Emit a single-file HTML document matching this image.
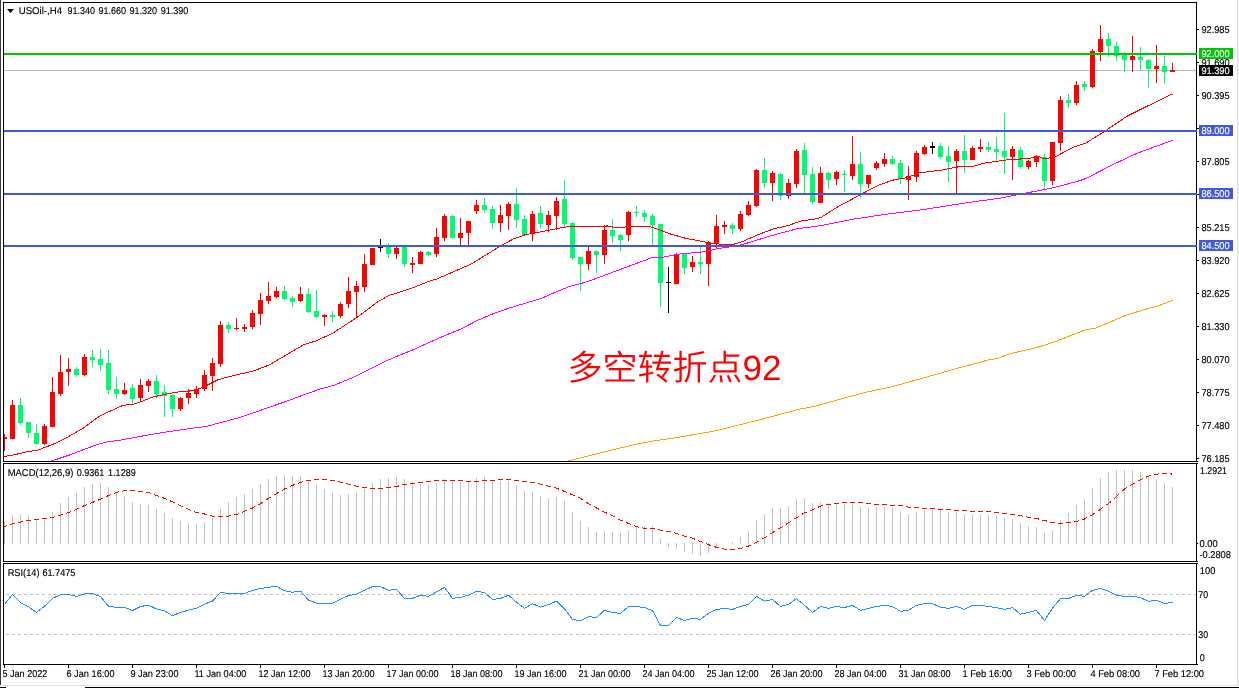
<!DOCTYPE html>
<html lang="zh"><head><meta charset="utf-8"><title>USOil-,H4</title>
<style>
html,body{margin:0;padding:0;background:#fff;overflow:hidden}
body{width:1239px;height:688px;position:relative}
svg{position:absolute;left:0;top:0;display:block}
text{font-family:"Liberation Sans","Noto Sans CJK SC",sans-serif;font-size:9.9px;fill:#000;stroke:#000;stroke-width:0.15px;text-rendering:geometricPrecision}
.cj{font-family:"Liberation Sans","Noto Sans CJK SC",sans-serif;font-size:35px;fill:#FF0000;font-weight:350;stroke:none}
.w{fill:#fff;stroke:#fff}
.cr{shape-rendering:crispEdges}
</style></head><body>
<svg width="1239" height="688" viewBox="0 0 1239 688">
<rect width="1239" height="688" fill="#fff"/>
<defs><filter id="nf" x="0" y="0" width="1239" height="688" filterUnits="userSpaceOnUse" color-interpolation-filters="sRGB"><feOffset dx="0" dy="0"/></filter></defs>
<g class="cr">
<rect x="0" y="0" width="1" height="685" fill="#3a3a3a"/><rect x="0" y="685" width="1239" height="1" fill="#e4e4e4"/><rect x="0" y="687" width="6" height="1" fill="#000"/><rect x="85" y="687" width="1154" height="1" fill="#000"/><rect x="1237" y="0" width="1" height="685" fill="#dedede"/><rect x="1238" y="0" width="1" height="685" fill="#f1f1f1"/></g>
<g class="cr">
<rect x="4" y="70" width="1192" height="1" fill="#C0C0C0"/><rect x="4" y="434" width="1" height="17" fill="#FF0000"/><rect x="4" y="437" width="3" height="2" fill="#FF0000"/><rect x="12" y="400" width="1" height="39" fill="#FF0000"/><rect x="10" y="405" width="5" height="34" fill="#FF0000"/><rect x="20" y="398" width="1" height="27" fill="#00FB72"/><rect x="18" y="405" width="5" height="18" fill="#00FB72"/><rect x="28" y="422" width="1" height="16" fill="#00FB72"/><rect x="26" y="422" width="5" height="11" fill="#00FB72"/><rect x="36" y="424" width="1" height="21" fill="#00FB72"/><rect x="34" y="433" width="5" height="11" fill="#00FB72"/><rect x="44" y="424" width="1" height="21" fill="#FF0000"/><rect x="42" y="426" width="5" height="18" fill="#FF0000"/><rect x="52" y="377" width="1" height="50" fill="#FF0000"/><rect x="50" y="392" width="5" height="35" fill="#FF0000"/><rect x="60" y="355" width="1" height="41" fill="#FF0000"/><rect x="58" y="372" width="5" height="22" fill="#FF0000"/><rect x="68" y="358" width="1" height="28" fill="#FF0000"/><rect x="66" y="369" width="5" height="3" fill="#FF0000"/><rect x="76" y="367" width="1" height="10" fill="#00FB72"/><rect x="74" y="369" width="5" height="6" fill="#00FB72"/><rect x="84" y="354" width="1" height="22" fill="#FF0000"/><rect x="82" y="357" width="5" height="18" fill="#FF0000"/><rect x="92" y="350" width="1" height="17" fill="#00FB72"/><rect x="90" y="357" width="5" height="3" fill="#00FB72"/><rect x="100" y="349" width="1" height="22" fill="#00FB72"/><rect x="98" y="359" width="5" height="6" fill="#00FB72"/><rect x="108" y="350" width="1" height="44" fill="#00FB72"/><rect x="106" y="363" width="5" height="27" fill="#00FB72"/><rect x="116" y="377" width="1" height="22" fill="#00FB72"/><rect x="114" y="389" width="5" height="5" fill="#00FB72"/><rect x="124" y="383" width="1" height="12" fill="#FF0000"/><rect x="122" y="390" width="5" height="4" fill="#FF0000"/><rect x="132" y="384" width="1" height="20" fill="#00FB72"/><rect x="130" y="388" width="5" height="11" fill="#00FB72"/><rect x="140" y="379" width="1" height="23" fill="#FF0000"/><rect x="138" y="385" width="5" height="13" fill="#FF0000"/><rect x="148" y="379" width="1" height="13" fill="#FF0000"/><rect x="146" y="381" width="5" height="5" fill="#FF0000"/><rect x="156" y="375" width="1" height="23" fill="#00FB72"/><rect x="154" y="381" width="5" height="13" fill="#00FB72"/><rect x="164" y="385" width="1" height="32" fill="#00FB72"/><rect x="162" y="392" width="5" height="4" fill="#00FB72"/><rect x="172" y="394" width="1" height="23" fill="#00FB72"/><rect x="170" y="395" width="5" height="14" fill="#00FB72"/><rect x="180" y="397" width="1" height="14" fill="#FF0000"/><rect x="178" y="398" width="5" height="11" fill="#FF0000"/><rect x="188" y="389" width="1" height="15" fill="#FF0000"/><rect x="186" y="393" width="5" height="5" fill="#FF0000"/><rect x="196" y="386" width="1" height="12" fill="#FF0000"/><rect x="194" y="389" width="5" height="5" fill="#FF0000"/><rect x="204" y="370" width="1" height="21" fill="#FF0000"/><rect x="202" y="375" width="5" height="14" fill="#FF0000"/><rect x="212" y="358" width="1" height="33" fill="#FF0000"/><rect x="210" y="363" width="5" height="13" fill="#FF0000"/><rect x="220" y="321" width="1" height="46" fill="#FF0000"/><rect x="218" y="325" width="5" height="39" fill="#FF0000"/><rect x="228" y="322" width="1" height="11" fill="#00FB72"/><rect x="226" y="325" width="5" height="4" fill="#00FB72"/><rect x="236" y="318" width="1" height="12" fill="#FF0000"/><rect x="234" y="328" width="5" height="1" fill="#FF0000"/><rect x="244" y="324" width="1" height="8" fill="#FF0000"/><rect x="242" y="327" width="5" height="2" fill="#FF0000"/><rect x="252" y="310" width="1" height="19" fill="#FF0000"/><rect x="250" y="313" width="5" height="14" fill="#FF0000"/><rect x="260" y="293" width="1" height="32" fill="#FF0000"/><rect x="258" y="300" width="5" height="14" fill="#FF0000"/><rect x="268" y="282" width="1" height="22" fill="#FF0000"/><rect x="266" y="296" width="5" height="5" fill="#FF0000"/><rect x="276" y="287" width="1" height="11" fill="#FF0000"/><rect x="274" y="291" width="5" height="6" fill="#FF0000"/><rect x="284" y="286" width="1" height="14" fill="#00FB72"/><rect x="282" y="291" width="5" height="8" fill="#00FB72"/><rect x="292" y="296" width="1" height="11" fill="#00FB72"/><rect x="290" y="298" width="5" height="4" fill="#00FB72"/><rect x="300" y="287" width="1" height="15" fill="#FF0000"/><rect x="298" y="294" width="5" height="7" fill="#FF0000"/><rect x="308" y="288" width="1" height="25" fill="#00FB72"/><rect x="306" y="294" width="5" height="18" fill="#00FB72"/><rect x="316" y="290" width="1" height="28" fill="#00FB72"/><rect x="314" y="311" width="5" height="6" fill="#00FB72"/><rect x="324" y="314" width="1" height="12" fill="#FF0000"/><rect x="322" y="315" width="5" height="2" fill="#FF0000"/><rect x="332" y="311" width="1" height="11" fill="#00FB72"/><rect x="330" y="315" width="5" height="2" fill="#00FB72"/><rect x="340" y="302" width="1" height="16" fill="#FF0000"/><rect x="338" y="304" width="5" height="12" fill="#FF0000"/><rect x="348" y="277" width="1" height="31" fill="#FF0000"/><rect x="346" y="291" width="5" height="13" fill="#FF0000"/><rect x="356" y="281" width="1" height="37" fill="#FF0000"/><rect x="354" y="286" width="5" height="6" fill="#FF0000"/><rect x="364" y="254" width="1" height="38" fill="#FF0000"/><rect x="362" y="264" width="5" height="23" fill="#FF0000"/><rect x="372" y="248" width="1" height="17" fill="#FF0000"/><rect x="370" y="248" width="5" height="17" fill="#FF0000"/><rect x="380" y="239" width="1" height="13" fill="#000000"/><rect x="378" y="246" width="5" height="2" fill="#000000"/><rect x="388" y="243" width="1" height="15" fill="#00FB72"/><rect x="386" y="247" width="5" height="7" fill="#00FB72"/><rect x="396" y="247" width="1" height="12" fill="#FF0000"/><rect x="394" y="248" width="5" height="6" fill="#FF0000"/><rect x="404" y="245" width="1" height="22" fill="#00FB72"/><rect x="402" y="245" width="5" height="19" fill="#00FB72"/><rect x="412" y="257" width="1" height="16" fill="#FF0000"/><rect x="410" y="263" width="5" height="2" fill="#FF0000"/><rect x="420" y="251" width="1" height="13" fill="#FF0000"/><rect x="418" y="252" width="5" height="12" fill="#FF0000"/><rect x="428" y="251" width="1" height="5" fill="#00FB72"/><rect x="426" y="252" width="5" height="3" fill="#00FB72"/><rect x="436" y="228" width="1" height="29" fill="#FF0000"/><rect x="434" y="237" width="5" height="17" fill="#FF0000"/><rect x="444" y="214" width="1" height="27" fill="#FF0000"/><rect x="442" y="216" width="5" height="22" fill="#FF0000"/><rect x="452" y="215" width="1" height="23" fill="#00FB72"/><rect x="450" y="216" width="5" height="22" fill="#00FB72"/><rect x="460" y="218" width="1" height="27" fill="#FF0000"/><rect x="458" y="233" width="5" height="5" fill="#FF0000"/><rect x="468" y="221" width="1" height="24" fill="#FF0000"/><rect x="466" y="221" width="5" height="12" fill="#FF0000"/><rect x="476" y="200" width="1" height="14" fill="#FF0000"/><rect x="474" y="205" width="5" height="6" fill="#FF0000"/><rect x="484" y="198" width="1" height="15" fill="#00FB72"/><rect x="482" y="205" width="5" height="5" fill="#00FB72"/><rect x="492" y="206" width="1" height="23" fill="#00FB72"/><rect x="490" y="209" width="5" height="14" fill="#00FB72"/><rect x="500" y="205" width="1" height="27" fill="#FF0000"/><rect x="498" y="215" width="5" height="8" fill="#FF0000"/><rect x="508" y="202" width="1" height="28" fill="#FF0000"/><rect x="506" y="204" width="5" height="12" fill="#FF0000"/><rect x="516" y="188" width="1" height="40" fill="#00FB72"/><rect x="514" y="204" width="5" height="16" fill="#00FB72"/><rect x="524" y="215" width="1" height="20" fill="#00FB72"/><rect x="522" y="219" width="5" height="16" fill="#00FB72"/><rect x="532" y="211" width="1" height="30" fill="#FF0000"/><rect x="530" y="214" width="5" height="20" fill="#FF0000"/><rect x="540" y="206" width="1" height="22" fill="#00FB72"/><rect x="538" y="213" width="5" height="11" fill="#00FB72"/><rect x="548" y="211" width="1" height="21" fill="#FF0000"/><rect x="546" y="215" width="5" height="10" fill="#FF0000"/><rect x="556" y="197" width="1" height="33" fill="#FF0000"/><rect x="554" y="201" width="5" height="15" fill="#FF0000"/><rect x="564" y="180" width="1" height="47" fill="#00FB72"/><rect x="562" y="199" width="5" height="25" fill="#00FB72"/><rect x="572" y="222" width="1" height="38" fill="#00FB72"/><rect x="570" y="223" width="5" height="35" fill="#00FB72"/><rect x="580" y="257" width="1" height="34" fill="#00FB72"/><rect x="578" y="257" width="5" height="7" fill="#00FB72"/><rect x="588" y="247" width="1" height="23" fill="#FF0000"/><rect x="586" y="251" width="5" height="13" fill="#FF0000"/><rect x="596" y="251" width="1" height="22" fill="#00FB72"/><rect x="594" y="251" width="5" height="4" fill="#00FB72"/><rect x="604" y="225" width="1" height="39" fill="#FF0000"/><rect x="602" y="230" width="5" height="25" fill="#FF0000"/><rect x="612" y="219" width="1" height="24" fill="#00FB72"/><rect x="610" y="230" width="5" height="6" fill="#00FB72"/><rect x="620" y="234" width="1" height="17" fill="#00FB72"/><rect x="618" y="235" width="5" height="5" fill="#00FB72"/><rect x="628" y="211" width="1" height="30" fill="#FF0000"/><rect x="626" y="212" width="5" height="23" fill="#FF0000"/><rect x="636" y="206" width="1" height="11" fill="#00FB72"/><rect x="634" y="212" width="5" height="1" fill="#00FB72"/><rect x="644" y="210" width="1" height="12" fill="#00FB72"/><rect x="642" y="213" width="5" height="4" fill="#00FB72"/><rect x="652" y="214" width="1" height="31" fill="#00FB72"/><rect x="650" y="216" width="5" height="9" fill="#00FB72"/><rect x="660" y="224" width="1" height="83" fill="#00FB72"/><rect x="658" y="224" width="5" height="59" fill="#00FB72"/><rect x="668" y="267" width="1" height="46" fill="#000000"/><rect x="666" y="282" width="5" height="1" fill="#000000"/><rect x="676" y="253" width="1" height="31" fill="#FF0000"/><rect x="674" y="255" width="5" height="29" fill="#FF0000"/><rect x="684" y="253" width="1" height="21" fill="#00FB72"/><rect x="682" y="254" width="5" height="14" fill="#00FB72"/><rect x="692" y="256" width="1" height="16" fill="#FF0000"/><rect x="690" y="262" width="5" height="5" fill="#FF0000"/><rect x="700" y="247" width="1" height="27" fill="#00FB72"/><rect x="698" y="262" width="5" height="2" fill="#00FB72"/><rect x="708" y="241" width="1" height="45" fill="#FF0000"/><rect x="706" y="242" width="5" height="22" fill="#FF0000"/><rect x="716" y="215" width="1" height="33" fill="#FF0000"/><rect x="714" y="226" width="5" height="18" fill="#FF0000"/><rect x="724" y="221" width="1" height="13" fill="#FF0000"/><rect x="722" y="225" width="5" height="2" fill="#FF0000"/><rect x="732" y="223" width="1" height="11" fill="#00FB72"/><rect x="730" y="225" width="5" height="4" fill="#00FB72"/><rect x="740" y="211" width="1" height="20" fill="#FF0000"/><rect x="738" y="214" width="5" height="15" fill="#FF0000"/><rect x="748" y="201" width="1" height="15" fill="#FF0000"/><rect x="746" y="205" width="5" height="10" fill="#FF0000"/><rect x="756" y="169" width="1" height="38" fill="#FF0000"/><rect x="754" y="170" width="5" height="36" fill="#FF0000"/><rect x="764" y="158" width="1" height="30" fill="#00FB72"/><rect x="762" y="170" width="5" height="13" fill="#00FB72"/><rect x="772" y="171" width="1" height="30" fill="#FF0000"/><rect x="770" y="173" width="5" height="10" fill="#FF0000"/><rect x="780" y="173" width="1" height="27" fill="#00FB72"/><rect x="778" y="174" width="5" height="22" fill="#00FB72"/><rect x="788" y="179" width="1" height="20" fill="#FF0000"/><rect x="786" y="183" width="5" height="13" fill="#FF0000"/><rect x="796" y="149" width="1" height="39" fill="#FF0000"/><rect x="794" y="151" width="5" height="33" fill="#FF0000"/><rect x="804" y="143" width="1" height="50" fill="#00FB72"/><rect x="802" y="150" width="5" height="25" fill="#00FB72"/><rect x="812" y="167" width="1" height="37" fill="#00FB72"/><rect x="810" y="174" width="5" height="28" fill="#00FB72"/><rect x="820" y="167" width="1" height="36" fill="#FF0000"/><rect x="818" y="173" width="5" height="30" fill="#FF0000"/><rect x="828" y="172" width="1" height="17" fill="#00FB72"/><rect x="826" y="173" width="5" height="7" fill="#00FB72"/><rect x="836" y="171" width="1" height="14" fill="#FF0000"/><rect x="834" y="172" width="5" height="7" fill="#FF0000"/><rect x="844" y="170" width="1" height="22" fill="#00FB72"/><rect x="842" y="174" width="5" height="1" fill="#00FB72"/><rect x="852" y="136" width="1" height="44" fill="#FF0000"/><rect x="850" y="164" width="5" height="12" fill="#FF0000"/><rect x="860" y="152" width="1" height="46" fill="#00FB72"/><rect x="858" y="164" width="5" height="20" fill="#00FB72"/><rect x="868" y="175" width="1" height="13" fill="#FF0000"/><rect x="866" y="175" width="5" height="9" fill="#FF0000"/><rect x="876" y="161" width="1" height="9" fill="#FF0000"/><rect x="874" y="163" width="5" height="5" fill="#FF0000"/><rect x="884" y="153" width="1" height="14" fill="#FF0000"/><rect x="882" y="159" width="5" height="5" fill="#FF0000"/><rect x="892" y="156" width="1" height="9" fill="#00FB72"/><rect x="890" y="159" width="5" height="5" fill="#00FB72"/><rect x="900" y="160" width="1" height="24" fill="#00FB72"/><rect x="898" y="163" width="5" height="16" fill="#00FB72"/><rect x="908" y="166" width="1" height="34" fill="#FF0000"/><rect x="906" y="176" width="5" height="4" fill="#FF0000"/><rect x="916" y="151" width="1" height="31" fill="#FF0000"/><rect x="914" y="153" width="5" height="24" fill="#FF0000"/><rect x="924" y="145" width="1" height="10" fill="#FF0000"/><rect x="922" y="147" width="5" height="7" fill="#FF0000"/><rect x="932" y="142" width="1" height="12" fill="#000000"/><rect x="930" y="146" width="5" height="2" fill="#000000"/><rect x="940" y="143" width="1" height="16" fill="#00FB72"/><rect x="938" y="146" width="5" height="11" fill="#00FB72"/><rect x="948" y="146" width="1" height="36" fill="#00FB72"/><rect x="946" y="156" width="5" height="6" fill="#00FB72"/><rect x="956" y="149" width="1" height="44" fill="#FF0000"/><rect x="954" y="151" width="5" height="10" fill="#FF0000"/><rect x="964" y="135" width="1" height="38" fill="#00FB72"/><rect x="962" y="151" width="5" height="9" fill="#00FB72"/><rect x="972" y="146" width="1" height="14" fill="#FF0000"/><rect x="970" y="148" width="5" height="12" fill="#FF0000"/><rect x="980" y="139" width="1" height="13" fill="#FF0000"/><rect x="978" y="147" width="5" height="2" fill="#FF0000"/><rect x="988" y="142" width="1" height="10" fill="#00FB72"/><rect x="986" y="147" width="5" height="3" fill="#00FB72"/><rect x="996" y="137" width="1" height="24" fill="#00FB72"/><rect x="994" y="149" width="5" height="3" fill="#00FB72"/><rect x="1004" y="113" width="1" height="61" fill="#00FB72"/><rect x="1002" y="151" width="5" height="6" fill="#00FB72"/><rect x="1012" y="146" width="1" height="34" fill="#FF0000"/><rect x="1010" y="149" width="5" height="8" fill="#FF0000"/><rect x="1020" y="147" width="1" height="22" fill="#00FB72"/><rect x="1018" y="150" width="5" height="17" fill="#00FB72"/><rect x="1028" y="160" width="1" height="9" fill="#FF0000"/><rect x="1026" y="161" width="5" height="6" fill="#FF0000"/><rect x="1036" y="155" width="1" height="12" fill="#FF0000"/><rect x="1034" y="156" width="5" height="6" fill="#FF0000"/><rect x="1044" y="154" width="1" height="35" fill="#00FB72"/><rect x="1042" y="157" width="5" height="24" fill="#00FB72"/><rect x="1052" y="142" width="1" height="43" fill="#FF0000"/><rect x="1050" y="142" width="5" height="39" fill="#FF0000"/><rect x="1060" y="96" width="1" height="55" fill="#FF0000"/><rect x="1058" y="100" width="5" height="43" fill="#FF0000"/><rect x="1068" y="94" width="1" height="14" fill="#00FB72"/><rect x="1066" y="100" width="5" height="3" fill="#00FB72"/><rect x="1076" y="81" width="1" height="24" fill="#FF0000"/><rect x="1074" y="85" width="5" height="18" fill="#FF0000"/><rect x="1084" y="81" width="1" height="10" fill="#00FB72"/><rect x="1082" y="84" width="5" height="3" fill="#00FB72"/><rect x="1092" y="49" width="1" height="39" fill="#FF0000"/><rect x="1090" y="51" width="5" height="36" fill="#FF0000"/><rect x="1100" y="25" width="1" height="36" fill="#FF0000"/><rect x="1098" y="39" width="5" height="13" fill="#FF0000"/><rect x="1108" y="33" width="1" height="24" fill="#00FB72"/><rect x="1106" y="39" width="5" height="7" fill="#00FB72"/><rect x="1116" y="42" width="1" height="19" fill="#00FB72"/><rect x="1114" y="46" width="5" height="10" fill="#00FB72"/><rect x="1124" y="52" width="1" height="20" fill="#00FB72"/><rect x="1122" y="54" width="5" height="6" fill="#00FB72"/><rect x="1132" y="36" width="1" height="36" fill="#FF0000"/><rect x="1130" y="56" width="5" height="4" fill="#FF0000"/><rect x="1140" y="47" width="1" height="23" fill="#00FB72"/><rect x="1138" y="57" width="5" height="3" fill="#00FB72"/><rect x="1148" y="59" width="1" height="29" fill="#00FB72"/><rect x="1146" y="60" width="5" height="9" fill="#00FB72"/><rect x="1156" y="45" width="1" height="38" fill="#FF0000"/><rect x="1154" y="66" width="5" height="3" fill="#FF0000"/><rect x="1164" y="56" width="1" height="28" fill="#00FB72"/><rect x="1162" y="66" width="5" height="6" fill="#00FB72"/><rect x="1172" y="63" width="1" height="9" fill="#FF0000"/><rect x="1170" y="70" width="5" height="2" fill="#FF0000"/>
</g>
<g class="cr">
<polyline points="568.5,461 599.2,453.1 638,443.8 653.5,440.9 676.7,437.6 715.5,430.8 754.2,421.2 800.5,408.9 814.3,406.5 841.5,398.8 867,392 892.5,386.6 926.5,377.1 960.5,367.4 990.5,359.4 997.3,358.6 1007.5,354.3 1036.4,347.7 1055.1,341.6 1085.7,329.8 1095.9,328 1126.5,315.2 1143.5,309.8 1158,306 1172.5,300.4" fill="none" stroke="#FFA500" stroke-width="1"/><polyline points="50.5,461.3 68.7,455.3 83.3,449.7 97.9,444.3 107.6,441.9 120.5,440.1 145.8,435.4 170,431.4 190.5,428.5 206.6,426.4 222.8,422 238.9,417.8 255.1,412.3 271.2,406.5 287.4,401 303.5,394.9 319.6,389.2 334.2,385.2 351.9,377.9 368.1,369.9 384.2,361.8 396.6,356.4 412.8,349.9 428.9,342.6 445.1,335.4 461.2,328.9 477.4,320.4 493.5,313.6 509.6,307.9 525.8,303.1 541.9,298.2 558.1,291 569.5,286.5 587.3,281.7 653.5,257.1 663.2,257.1 677.7,254.2 701.9,252.1 718.1,248.6 734.2,246.3 743.9,244.1 772.9,235.2 797.1,228.8 821.4,225.6 853.6,219.1 885.9,214.3 924.5,209.4 973.5,201.7 1000.5,198.2 1016.5,194.9 1053.8,187.7 1078,181.2 1086,178.5 1113.5,164.3 1137.7,153 1172.5,140.4" fill="none" stroke="#FF00FF" stroke-width="1"/><polyline points="3.5,456.6 13.2,455 24.8,452.3 37.5,450.1 44.3,447.7 54.1,443.8 68.7,436.5 83.3,428.2 97.9,417.3 107.6,412.2 110.5,411 123.2,405.3 133.4,404.3 141.7,401.4 151.4,397.5 162.1,394.9 168.9,393.6 178.7,391.9 193.3,390.7 198.1,389.2 207.9,384.8 217.6,380 225.4,377.7 238.6,374.4 253,371.1 268.7,365.2 279.3,359 303.5,344.8 316.4,340.8 332.9,333.1 357.1,317.3 378.1,301.7 389.4,295.2 396.6,293.2 412.8,287.8 428.9,281.3 437,278.9 471.5,263.9 500.5,245.9 513.5,238.9 524.8,234.9 545.8,230.8 561.9,227.6 571.5,226.2 608.3,226 613.1,227.1 624.5,227.1 628.5,226 648.5,226 660,230 669.5,233.7 685.8,238.4 701.9,241.3 711.5,243.3 722.9,244.4 734.2,244.1 742.3,241.7 756.8,235.2 772.9,229.1 789.1,225.2 802,220.7 814.9,219.1 821.4,217.2 837.5,207 860.1,194.9 876.2,186.2 892.4,180.2 906.9,177.6 920.4,172.6 941.4,170.2 957.5,167 973.5,166.2 984.9,163 1005.9,160 1022.1,158.9 1029.5,158.6 1036.8,155.9 1042.5,158.1 1048.9,158.1 1057,155.9 1073.1,147.3 1086,142.9 1103.8,132 1126.4,116.6 1145.8,106.9 1172.5,94" fill="none" stroke="#FF0000" stroke-width="1"/>
</g>
<g class="cr">
<rect x="4" y="522" width="1" height="22" fill="#C0C0C0"/><rect x="12" y="515" width="1" height="29" fill="#C0C0C0"/><rect x="20" y="514" width="1" height="30" fill="#C0C0C0"/><rect x="28" y="515" width="1" height="29" fill="#C0C0C0"/><rect x="36" y="520" width="1" height="24" fill="#C0C0C0"/><rect x="44" y="519" width="1" height="25" fill="#C0C0C0"/><rect x="52" y="512" width="1" height="32" fill="#C0C0C0"/><rect x="60" y="503" width="1" height="41" fill="#C0C0C0"/><rect x="68" y="497" width="1" height="47" fill="#C0C0C0"/><rect x="76" y="493" width="1" height="51" fill="#C0C0C0"/><rect x="84" y="487" width="1" height="57" fill="#C0C0C0"/><rect x="92" y="484" width="1" height="60" fill="#C0C0C0"/><rect x="100" y="483" width="1" height="61" fill="#C0C0C0"/><rect x="108" y="487" width="1" height="57" fill="#C0C0C0"/><rect x="116" y="492" width="1" height="52" fill="#C0C0C0"/><rect x="124" y="496" width="1" height="48" fill="#C0C0C0"/><rect x="132" y="502" width="1" height="42" fill="#C0C0C0"/><rect x="140" y="504" width="1" height="40" fill="#C0C0C0"/><rect x="148" y="505" width="1" height="39" fill="#C0C0C0"/><rect x="156" y="509" width="1" height="35" fill="#C0C0C0"/><rect x="164" y="513" width="1" height="31" fill="#C0C0C0"/><rect x="172" y="518" width="1" height="26" fill="#C0C0C0"/><rect x="180" y="521" width="1" height="23" fill="#C0C0C0"/><rect x="188" y="523" width="1" height="21" fill="#C0C0C0"/><rect x="196" y="524" width="1" height="20" fill="#C0C0C0"/><rect x="204" y="522" width="1" height="22" fill="#C0C0C0"/><rect x="212" y="518" width="1" height="26" fill="#C0C0C0"/><rect x="220" y="509" width="1" height="35" fill="#C0C0C0"/><rect x="228" y="502" width="1" height="42" fill="#C0C0C0"/><rect x="236" y="497" width="1" height="47" fill="#C0C0C0"/><rect x="244" y="494" width="1" height="50" fill="#C0C0C0"/><rect x="252" y="489" width="1" height="55" fill="#C0C0C0"/><rect x="260" y="484" width="1" height="60" fill="#C0C0C0"/><rect x="268" y="479" width="1" height="65" fill="#C0C0C0"/><rect x="276" y="476" width="1" height="68" fill="#C0C0C0"/><rect x="284" y="475" width="1" height="69" fill="#C0C0C0"/><rect x="292" y="476" width="1" height="68" fill="#C0C0C0"/><rect x="300" y="476" width="1" height="68" fill="#C0C0C0"/><rect x="308" y="480" width="1" height="64" fill="#C0C0C0"/><rect x="316" y="485" width="1" height="59" fill="#C0C0C0"/><rect x="324" y="489" width="1" height="55" fill="#C0C0C0"/><rect x="332" y="493" width="1" height="51" fill="#C0C0C0"/><rect x="340" y="495" width="1" height="49" fill="#C0C0C0"/><rect x="348" y="494" width="1" height="50" fill="#C0C0C0"/><rect x="356" y="493" width="1" height="51" fill="#C0C0C0"/><rect x="364" y="489" width="1" height="55" fill="#C0C0C0"/><rect x="372" y="483" width="1" height="61" fill="#C0C0C0"/><rect x="380" y="479" width="1" height="65" fill="#C0C0C0"/><rect x="388" y="478" width="1" height="66" fill="#C0C0C0"/><rect x="396" y="477" width="1" height="67" fill="#C0C0C0"/><rect x="404" y="479" width="1" height="65" fill="#C0C0C0"/><rect x="412" y="482" width="1" height="62" fill="#C0C0C0"/><rect x="420" y="483" width="1" height="61" fill="#C0C0C0"/><rect x="428" y="485" width="1" height="59" fill="#C0C0C0"/><rect x="436" y="483" width="1" height="61" fill="#C0C0C0"/><rect x="444" y="479" width="1" height="65" fill="#C0C0C0"/><rect x="452" y="480" width="1" height="64" fill="#C0C0C0"/><rect x="460" y="482" width="1" height="62" fill="#C0C0C0"/><rect x="468" y="482" width="1" height="62" fill="#C0C0C0"/><rect x="476" y="478" width="1" height="66" fill="#C0C0C0"/><rect x="484" y="477" width="1" height="67" fill="#C0C0C0"/><rect x="492" y="480" width="1" height="64" fill="#C0C0C0"/><rect x="500" y="481" width="1" height="63" fill="#C0C0C0"/><rect x="508" y="481" width="1" height="63" fill="#C0C0C0"/><rect x="516" y="485" width="1" height="59" fill="#C0C0C0"/><rect x="524" y="491" width="1" height="53" fill="#C0C0C0"/><rect x="532" y="492" width="1" height="52" fill="#C0C0C0"/><rect x="540" y="496" width="1" height="48" fill="#C0C0C0"/><rect x="548" y="498" width="1" height="46" fill="#C0C0C0"/><rect x="556" y="497" width="1" height="47" fill="#C0C0C0"/><rect x="564" y="501" width="1" height="43" fill="#C0C0C0"/><rect x="572" y="512" width="1" height="32" fill="#C0C0C0"/><rect x="580" y="521" width="1" height="23" fill="#C0C0C0"/><rect x="588" y="527" width="1" height="17" fill="#C0C0C0"/><rect x="596" y="532" width="1" height="12" fill="#C0C0C0"/><rect x="604" y="531" width="1" height="13" fill="#C0C0C0"/><rect x="612" y="532" width="1" height="12" fill="#C0C0C0"/><rect x="620" y="533" width="1" height="11" fill="#C0C0C0"/><rect x="628" y="530" width="1" height="14" fill="#C0C0C0"/><rect x="636" y="527" width="1" height="17" fill="#C0C0C0"/><rect x="644" y="526" width="1" height="18" fill="#C0C0C0"/><rect x="652" y="526" width="1" height="18" fill="#C0C0C0"/><rect x="660" y="538" width="1" height="6" fill="#C0C0C0"/><rect x="668" y="543" width="1" height="4" fill="#C0C0C0"/><rect x="676" y="543" width="1" height="6" fill="#C0C0C0"/><rect x="684" y="543" width="1" height="9" fill="#C0C0C0"/><rect x="692" y="543" width="1" height="11" fill="#C0C0C0"/><rect x="700" y="543" width="1" height="13" fill="#C0C0C0"/><rect x="708" y="543" width="1" height="10" fill="#C0C0C0"/><rect x="716" y="543" width="1" height="4" fill="#C0C0C0"/><rect x="732" y="542" width="1" height="2" fill="#C0C0C0"/><rect x="740" y="537" width="1" height="7" fill="#C0C0C0"/><rect x="748" y="531" width="1" height="13" fill="#C0C0C0"/><rect x="756" y="520" width="1" height="24" fill="#C0C0C0"/><rect x="764" y="514" width="1" height="30" fill="#C0C0C0"/><rect x="772" y="508" width="1" height="36" fill="#C0C0C0"/><rect x="780" y="508" width="1" height="36" fill="#C0C0C0"/><rect x="788" y="506" width="1" height="38" fill="#C0C0C0"/><rect x="796" y="499" width="1" height="45" fill="#C0C0C0"/><rect x="804" y="498" width="1" height="46" fill="#C0C0C0"/><rect x="812" y="503" width="1" height="41" fill="#C0C0C0"/><rect x="820" y="502" width="1" height="42" fill="#C0C0C0"/><rect x="828" y="503" width="1" height="41" fill="#C0C0C0"/><rect x="836" y="504" width="1" height="40" fill="#C0C0C0"/><rect x="844" y="504" width="1" height="40" fill="#C0C0C0"/><rect x="852" y="502" width="1" height="42" fill="#C0C0C0"/><rect x="860" y="507" width="1" height="37" fill="#C0C0C0"/><rect x="868" y="508" width="1" height="36" fill="#C0C0C0"/><rect x="876" y="507" width="1" height="37" fill="#C0C0C0"/><rect x="884" y="507" width="1" height="37" fill="#C0C0C0"/><rect x="892" y="507" width="1" height="37" fill="#C0C0C0"/><rect x="900" y="511" width="1" height="33" fill="#C0C0C0"/><rect x="908" y="514" width="1" height="30" fill="#C0C0C0"/><rect x="916" y="512" width="1" height="32" fill="#C0C0C0"/><rect x="924" y="510" width="1" height="34" fill="#C0C0C0"/><rect x="932" y="509" width="1" height="35" fill="#C0C0C0"/><rect x="940" y="510" width="1" height="34" fill="#C0C0C0"/><rect x="948" y="512" width="1" height="32" fill="#C0C0C0"/><rect x="956" y="512" width="1" height="32" fill="#C0C0C0"/><rect x="964" y="514" width="1" height="30" fill="#C0C0C0"/><rect x="972" y="514" width="1" height="30" fill="#C0C0C0"/><rect x="980" y="514" width="1" height="30" fill="#C0C0C0"/><rect x="988" y="515" width="1" height="29" fill="#C0C0C0"/><rect x="996" y="516" width="1" height="28" fill="#C0C0C0"/><rect x="1004" y="518" width="1" height="26" fill="#C0C0C0"/><rect x="1012" y="519" width="1" height="25" fill="#C0C0C0"/><rect x="1020" y="523" width="1" height="21" fill="#C0C0C0"/><rect x="1028" y="526" width="1" height="18" fill="#C0C0C0"/><rect x="1036" y="527" width="1" height="17" fill="#C0C0C0"/><rect x="1044" y="533" width="1" height="11" fill="#C0C0C0"/><rect x="1052" y="530" width="1" height="14" fill="#C0C0C0"/><rect x="1060" y="520" width="1" height="24" fill="#C0C0C0"/><rect x="1068" y="513" width="1" height="31" fill="#C0C0C0"/><rect x="1076" y="505" width="1" height="39" fill="#C0C0C0"/><rect x="1084" y="499" width="1" height="45" fill="#C0C0C0"/><rect x="1092" y="488" width="1" height="56" fill="#C0C0C0"/><rect x="1100" y="478" width="1" height="66" fill="#C0C0C0"/><rect x="1108" y="472" width="1" height="72" fill="#C0C0C0"/><rect x="1116" y="470" width="1" height="74" fill="#C0C0C0"/><rect x="1124" y="470" width="1" height="74" fill="#C0C0C0"/><rect x="1132" y="470" width="1" height="74" fill="#C0C0C0"/><rect x="1140" y="472" width="1" height="72" fill="#C0C0C0"/><rect x="1148" y="477" width="1" height="67" fill="#C0C0C0"/><rect x="1156" y="479" width="1" height="65" fill="#C0C0C0"/><rect x="1164" y="483" width="1" height="61" fill="#C0C0C0"/><rect x="1172" y="487" width="1" height="57" fill="#C0C0C0"/><path d="M4,526.6L4.5,526.6L6.9,525.8M10.3,524.6L12.5,523.9L14.9,523.4M18.3,522.6L20.5,522.1L22.9,521.6M26.3,521.0L28.5,520.6L30.9,520.2M34.3,519.7L36.5,519.3L38.9,519.1M42.3,518.7L44.5,518.5L46.9,518.2M50.3,517.7L52.5,517.4L54.9,516.8M58.3,515.9L60.5,515.3L62.9,514.5M66.3,513.3L68.5,512.6L70.9,511.6M74.3,510.2L76.5,509.3L78.9,508.2M82.3,506.6L84.5,505.6L86.9,504.6M90.3,503.3L92.5,502.4L94.9,501.4M98.3,500.1L100.5,499.2L102.9,498.1M106.3,496.6L108.5,495.6L110.9,494.6M114.3,493.3L116.5,492.4L118.9,491.9M122.3,491.1L124.5,490.6L126.9,490.6M130.3,490.6L132.5,490.6L134.9,490.8M138.3,491.2L140.5,491.4L142.9,491.7M146.3,492.1L148.5,492.4L150.9,493.4M154.3,494.7L156.5,495.6L158.9,496.4M162.3,497.6L164.5,498.4L166.9,499.5M170.3,500.9L172.5,501.9L174.9,503.0M178.3,504.6L180.5,505.6L182.9,506.7M186.3,508.3L188.5,509.3L190.9,510.3M194.3,511.7L196.5,512.6L198.9,513.0M202.3,513.6L204.5,514L206.9,514.6M210.3,515.5L212.5,516.1L214.9,516.2M218.3,516.3L220.5,516.4L222.9,516.3M226.3,516.2L228.5,516.1L230.9,515.6M234.3,514.9L236.5,514.5L238.9,513.5M242.3,512.2L244.5,511.3L246.9,510.3M250.3,508.9L252.5,508L254.9,506.7M258.3,504.9L260.5,503.7L262.9,502.1M266.3,499.9L268.5,498.4L270.9,496.9M274.3,494.8L276.5,493.5L278.9,492.2M282.3,490.2L284.5,489L286.9,487.9M290.3,486.4L292.5,485.4L294.9,484.5M298.3,483.3L300.5,482.5L302.9,481.8M306.3,480.9L308.5,480.3L310.9,480.0M314.3,479.6L316.5,479.3L318.9,479.3M322.3,479.3L324.5,479.3L326.9,479.6M330.3,480.0L332.5,480.3L334.9,480.9M338.3,481.7L340.5,482.2L342.9,482.8M346.3,483.6L348.5,484.2L350.9,484.8M354.3,485.6L356.5,486.2L358.9,486.6M362.3,487.1L364.5,487.4L366.9,487.6M370.3,488.0L372.5,488.2L374.9,488.2M378.3,488.2L380.5,488.2L382.9,488.0M386.3,487.6L388.5,487.4L390.9,487.2M394.3,486.8L396.5,486.6L398.9,485.9M402.3,484.9L404.5,484.3L406.9,484.0M410.3,483.6L412.5,483.3L414.9,483.0M418.3,482.5L420.5,482.2L422.9,482.0M426.3,481.6L428.5,481.4L430.9,481.2M434.3,480.8L436.5,480.6L438.9,480.5M442.3,480.4L444.5,480.3L446.9,480.3M450.3,480.3L452.5,480.3L454.9,480.4M458.3,480.5L460.5,480.6L462.9,480.8M466.3,481.2L468.5,481.4L470.9,481.4M474.3,481.4L476.5,481.4L478.9,481.2M482.3,480.8L484.5,480.6L486.9,480.5M490.3,480.4L492.5,480.3L494.9,480.0M498.3,479.6L500.5,479.3L502.9,479.3M506.3,479.3L508.5,479.3L510.9,479.6M514.3,480.0L516.5,480.3L518.9,480.6M522.3,481.1L524.5,481.4L526.9,481.6M530.3,482.0L532.5,482.2L534.9,482.8M538.3,483.6L540.5,484.2L542.9,484.8M546.3,485.6L548.5,486.2L550.9,486.8M554.3,487.6L556.5,488.2L558.9,489.2M562.3,490.5L564.5,491.4L566.9,492.4M570.3,493.9L572.5,494.8L574.9,495.9M578.3,497.4L580.5,498.4L582.9,500.0M586.3,502.2L588.5,503.7L590.9,505.0M594.3,506.8L596.5,508L598.9,509.2M602.3,511.0L604.5,512.1L606.9,513.2M610.3,514.8L612.5,515.8L614.9,517.1M618.3,518.9L620.5,520.1L622.9,521.1M626.3,522.5L628.5,523.4L630.9,524.4M634.3,525.7L636.5,526.6L638.9,527.1M642.3,527.8L644.5,528.2L646.9,528.2M650.3,528.2L652.5,528.2L654.9,528.8M658.3,529.7L660.5,530.2L662.9,530.6M666.3,531.1L668.5,531.4L670.9,532.0M674.3,532.8L676.5,533.4L678.9,534.3M682.3,535.5L684.5,536.3L686.9,536.9M690.3,537.7L692.5,538.2L694.9,539.2M698.3,540.6L700.5,541.5L702.9,542.5M706.3,543.8L708.5,544.7L710.9,545.5M714.3,546.6L716.5,547.3L718.9,547.9M722.3,548.7L724.5,549.2L726.9,549.3M730.3,549.4L732.5,549.5L734.9,549.2M738.3,548.7L740.5,548.4L742.9,547.7M746.3,546.7L748.5,546L750.9,544.9M754.3,543.3L756.5,542.3L758.9,541.0M762.3,539.1L764.5,537.9L766.9,536.3M770.3,534.1L772.5,532.6L774.9,531.1M778.3,529.0L780.5,527.7L782.9,526.3M786.3,524.2L788.5,522.9L790.9,521.3M794.3,519.1L796.5,517.7L798.9,516.3M802.3,514.2L804.5,512.9L806.9,511.9M810.3,510.6L812.5,509.7L814.9,508.6M818.3,507.1L820.5,506.1L822.9,505.6M826.3,504.9L828.5,504.5L830.9,504.2M834.3,503.8L836.5,503.5L838.9,503.2M842.3,502.7L844.5,502.4L846.9,502.4M850.3,502.4L852.5,502.4L854.9,502.4M858.3,502.4L860.5,502.4L862.9,502.7M866.3,503.2L868.5,503.5L870.9,503.7M874.3,504.1L876.5,504.3L878.9,504.4M882.3,504.4L884.5,504.5L886.9,504.7M890.3,505.1L892.5,505.3L894.9,505.3M898.3,505.3L900.5,505.3L902.9,505.9M906.3,506.7L908.5,507.2L910.9,507.3M914.3,507.5L916.5,507.6L918.9,507.8M922.3,508.2L924.5,508.4L926.9,508.4M930.3,508.5L932.5,508.5L934.9,508.7M938.3,509.1L940.5,509.3L942.9,509.3M946.3,509.3L948.5,509.3L950.9,509.7M954.3,510.2L956.5,510.5L958.9,510.5M962.3,510.5L964.5,510.5L966.9,510.7M970.3,511.1L972.5,511.3L974.9,511.3M978.3,511.3L980.5,511.3L982.9,511.4M986.3,511.5L988.5,511.6L990.9,511.8M994.3,512.2L996.5,512.4L998.9,512.7M1002.3,513.1L1004.5,513.4L1006.9,513.7M1010.3,514.2L1012.5,514.5L1014.9,514.8M1018.3,515.3L1020.5,515.6L1022.9,516.1M1026.3,516.9L1028.5,517.4L1030.9,517.7M1034.3,518.2L1036.5,518.5L1038.9,519.1M1042.3,520.0L1044.5,520.5L1046.9,521.1M1050.3,522.0L1052.5,522.6L1054.9,522.8M1058.3,523.2L1060.5,523.4L1062.9,523.2M1066.3,522.8L1068.5,522.6L1070.9,522.2M1074.3,521.7L1076.5,521.4L1078.9,520.7M1082.3,519.7L1084.5,519L1086.9,517.7M1090.3,516.0L1092.5,514.8L1094.9,513.1M1098.3,510.8L1100.5,509.3L1102.9,507.6M1106.3,505.2L1108.5,503.7L1110.9,501.6M1114.3,498.6L1116.5,496.7L1118.9,494.4M1122.3,491.1L1124.5,489L1126.9,487.6M1130.3,485.6L1132.5,484.3L1134.9,482.9M1138.3,481.0L1140.5,479.8L1142.9,478.7M1146.3,477.1L1148.5,476.1L1150.9,475.5M1154.3,474.6L1156.5,474.1L1158.9,473.9M1162.3,473.5L1164.5,473.3L1166.9,473.5M1170.3,473.9L1172.5,474.1L1172.5,474.1" fill="none" stroke="#FF0000" stroke-width="1"/>
</g>
<g class="cr">
<line x1="6" y1="594.5" x2="1196" y2="594.5" stroke="#C0C0C0" stroke-width="1" stroke-dasharray="3 3"/><line x1="6" y1="634.5" x2="1196" y2="634.5" stroke="#C0C0C0" stroke-width="1" stroke-dasharray="3 3"/><polyline points="4.5,604.5 12.5,594.4 20.5,602.8 28.5,606.8 36.5,612.4 44.5,606.2 52.5,598.4 60.5,594.7 68.5,594.4 76.5,596.5 84.5,593.9 92.5,593.6 100.5,596.5 108.5,606.2 116.5,607.3 124.5,607.3 132.5,610.5 140.5,606.5 148.5,605.2 156.5,608.9 164.5,610.8 172.5,615.7 180.5,612.4 188.5,610.2 196.5,608.1 204.5,604.1 212.5,601.2 220.5,592.3 228.5,593.6 236.5,593.6 244.5,593.6 252.5,590.3 260.5,588.4 268.5,587.4 276.5,586.3 284.5,590.8 292.5,592.3 300.5,591.1 308.5,600 316.5,603.2 324.5,603.2 332.5,603.2 340.5,599.2 348.5,595.5 356.5,594.4 364.5,590.3 372.5,586.6 380.5,586.6 388.5,590.3 396.5,589.5 404.5,598.4 412.5,598.4 420.5,595.2 428.5,596.3 436.5,591.9 444.5,587.4 452.5,598.4 460.5,597.3 468.5,595.2 476.5,591.1 484.5,592.8 492.5,599.5 500.5,598.4 508.5,595.2 516.5,602.1 524.5,608.4 532.5,603.6 540.5,607.3 548.5,604.5 556.5,601.2 564.5,608.9 572.5,619.4 580.5,620.7 588.5,616.6 596.5,617.5 604.5,610.2 612.5,612.4 620.5,613.4 628.5,606.5 636.5,606.5 644.5,607.6 652.5,610.5 660.5,625.4 668.5,625.4 676.5,617.5 684.5,620.5 692.5,618.3 700.5,619.4 708.5,613.3 716.5,609.4 724.5,608.4 732.5,609.4 740.5,606.5 748.5,604.4 756.5,596.5 764.5,601.2 772.5,599.5 780.5,606.5 788.5,604.4 796.5,598.7 804.5,605.3 812.5,612.4 820.5,606.5 828.5,608.4 836.5,606.5 844.5,607.6 852.5,605.3 860.5,610.5 868.5,608.4 876.5,606.5 884.5,605.3 892.5,606.5 900.5,611.3 908.5,610.2 916.5,605.3 924.5,603.6 932.5,603.6 940.5,607.3 948.5,608.4 956.5,606.5 964.5,609.4 972.5,605.3 980.5,605.3 988.5,606.5 996.5,607.6 1004.5,609.4 1012.5,607.6 1020.5,614.2 1028.5,612.4 1036.5,610.5 1044.5,620.5 1052.5,608.1 1060.5,598.7 1068.5,598.4 1076.5,595.5 1084.5,596.3 1092.5,590.3 1100.5,588.4 1108.5,591.1 1116.5,595.2 1124.5,596.3 1132.5,596.3 1140.5,597.6 1148.5,601.3 1156.5,600.3 1164.5,603.6 1172.5,602.4" fill="none" stroke="#1E90FF" stroke-width="1"/>
</g>
<g class="cr">
<rect x="3" y="2" width="1194" height="1" fill="#000"/><rect x="3" y="461" width="1194" height="1" fill="#000"/><rect x="3" y="2" width="1" height="460" fill="#000"/><rect x="1196" y="2" width="1" height="460" fill="#000"/><rect x="3" y="463" width="1194" height="1" fill="#000"/><rect x="3" y="561" width="1194" height="1" fill="#000"/><rect x="3" y="463" width="1" height="99" fill="#000"/><rect x="1196" y="463" width="1" height="99" fill="#000"/><rect x="3" y="563" width="1194" height="1" fill="#000"/><rect x="3" y="664" width="1194" height="1" fill="#000"/><rect x="3" y="563" width="1" height="102" fill="#000"/><rect x="1196" y="563" width="1" height="102" fill="#000"/><rect x="1197" y="29" width="2" height="1" fill="#000"/><rect x="1197" y="62" width="2" height="1" fill="#000"/><rect x="1197" y="95" width="2" height="1" fill="#000"/><rect x="1197" y="128" width="2" height="1" fill="#000"/><rect x="1197" y="161" width="2" height="1" fill="#000"/><rect x="1197" y="194" width="2" height="1" fill="#000"/><rect x="1197" y="227" width="2" height="1" fill="#000"/><rect x="1197" y="260" width="2" height="1" fill="#000"/><rect x="1197" y="293" width="2" height="1" fill="#000"/><rect x="1197" y="326" width="2" height="1" fill="#000"/><rect x="1197" y="359" width="2" height="1" fill="#000"/><rect x="1197" y="392" width="2" height="1" fill="#000"/><rect x="1197" y="425" width="2" height="1" fill="#000"/><rect x="1197" y="458" width="2" height="1" fill="#000"/><rect x="1197" y="543" width="1" height="1" fill="#000"/><rect x="1197" y="461" width="1" height="1" fill="#000"/><rect x="1197" y="463" width="1" height="1" fill="#000"/><rect x="1197" y="561" width="1" height="1" fill="#000"/><rect x="1197" y="563" width="1" height="1" fill="#000"/><rect x="1197" y="664" width="1" height="1" fill="#000"/><rect x="4" y="665" width="1" height="3" fill="#000"/><rect x="68" y="665" width="1" height="3" fill="#000"/><rect x="132" y="665" width="1" height="3" fill="#000"/><rect x="196" y="665" width="1" height="3" fill="#000"/><rect x="260" y="665" width="1" height="3" fill="#000"/><rect x="324" y="665" width="1" height="3" fill="#000"/><rect x="388" y="665" width="1" height="3" fill="#000"/><rect x="452" y="665" width="1" height="3" fill="#000"/><rect x="516" y="665" width="1" height="3" fill="#000"/><rect x="580" y="665" width="1" height="3" fill="#000"/><rect x="644" y="665" width="1" height="3" fill="#000"/><rect x="708" y="665" width="1" height="3" fill="#000"/><rect x="772" y="665" width="1" height="3" fill="#000"/><rect x="836" y="665" width="1" height="3" fill="#000"/><rect x="900" y="665" width="1" height="3" fill="#000"/><rect x="964" y="665" width="1" height="3" fill="#000"/><rect x="1028" y="665" width="1" height="3" fill="#000"/><rect x="1092" y="665" width="1" height="3" fill="#000"/><rect x="1156" y="665" width="1" height="3" fill="#000"/>
</g>
<g class="cr">
<rect x="4" y="53" width="1193" height="2" fill="#00C800"/><rect x="4" y="130" width="1193" height="2" fill="#4158E4"/><rect x="4" y="193" width="1193" height="2" fill="#4158E4"/><rect x="4" y="245" width="1193" height="2" fill="#4158E4"/>
</g>
<g filter="url(#nf)">
<polygon points="7,9 14,9 10.5,13" fill="#000"/><text x="18.7" y="14" textLength="43.4" lengthAdjust="spacingAndGlyphs">USOil-,H4</text><text x="67.4" y="14" textLength="27.6" lengthAdjust="spacingAndGlyphs">91.340</text><text x="98.4" y="14" textLength="27.6" lengthAdjust="spacingAndGlyphs">91.660</text><text x="129.5" y="14" textLength="27.6" lengthAdjust="spacingAndGlyphs">91.320</text><text x="160.7" y="14" textLength="27.6" lengthAdjust="spacingAndGlyphs">91.390</text><text x="7.7" y="476" textLength="65.6" lengthAdjust="spacingAndGlyphs">MACD(12,26,9)</text><text x="76.8" y="476" textLength="27.6" lengthAdjust="spacingAndGlyphs">0.9361</text><text x="108.1" y="476" textLength="27.6" lengthAdjust="spacingAndGlyphs">1.1289</text><text x="7.7" y="576" textLength="31.8" lengthAdjust="spacingAndGlyphs">RSI(14)</text><text x="42.4" y="576" textLength="33" lengthAdjust="spacingAndGlyphs">61.7475</text><text x="1201.4" y="33" textLength="28.2" lengthAdjust="spacingAndGlyphs">92.985</text><text x="1201.4" y="66" textLength="28.2" lengthAdjust="spacingAndGlyphs">91.690</text><text x="1201.4" y="99" textLength="28.2" lengthAdjust="spacingAndGlyphs">90.395</text><text x="1201.4" y="165" textLength="28.2" lengthAdjust="spacingAndGlyphs">87.805</text><text x="1201.4" y="231" textLength="28.2" lengthAdjust="spacingAndGlyphs">85.215</text><text x="1201.4" y="264" textLength="28.2" lengthAdjust="spacingAndGlyphs">83.920</text><text x="1201.4" y="297" textLength="28.2" lengthAdjust="spacingAndGlyphs">82.625</text><text x="1201.4" y="330" textLength="28.2" lengthAdjust="spacingAndGlyphs">81.330</text><text x="1201.4" y="363" textLength="28.2" lengthAdjust="spacingAndGlyphs">80.070</text><text x="1201.4" y="396" textLength="28.2" lengthAdjust="spacingAndGlyphs">78.775</text><text x="1201.4" y="429" textLength="28.2" lengthAdjust="spacingAndGlyphs">77.480</text><text x="1201.4" y="462" textLength="28.2" lengthAdjust="spacingAndGlyphs">76.185</text><text x="1200" y="474" textLength="27" lengthAdjust="spacingAndGlyphs">1.2921</text><text x="1199.5" y="547" textLength="18.2" lengthAdjust="spacingAndGlyphs">0.00</text><text x="1199.4" y="558" textLength="31.6" lengthAdjust="spacingAndGlyphs">-0.2808</text><text x="1199.8" y="574" textLength="15.6" lengthAdjust="spacingAndGlyphs">100</text><text x="1198.3" y="598" textLength="9.8" lengthAdjust="spacingAndGlyphs">70</text><text x="1198.3" y="638" textLength="9.8" lengthAdjust="spacingAndGlyphs">30</text><text x="1199.8" y="661" textLength="5" lengthAdjust="spacingAndGlyphs">0</text><text x="2.4" y="677" textLength="45" lengthAdjust="spacingAndGlyphs">5 Jan 2022</text><text x="66.4" y="677" textLength="48.2" lengthAdjust="spacingAndGlyphs">6 Jan 16:00</text><text x="130.4" y="677" textLength="48.2" lengthAdjust="spacingAndGlyphs">9 Jan 23:00</text><text x="194.4" y="677" textLength="52" lengthAdjust="spacingAndGlyphs">11 Jan 04:00</text><text x="258.4" y="677" textLength="52" lengthAdjust="spacingAndGlyphs">12 Jan 12:00</text><text x="322.4" y="677" textLength="52" lengthAdjust="spacingAndGlyphs">13 Jan 20:00</text><text x="386.4" y="677" textLength="52" lengthAdjust="spacingAndGlyphs">17 Jan 00:00</text><text x="450.4" y="677" textLength="52" lengthAdjust="spacingAndGlyphs">18 Jan 08:00</text><text x="514.4" y="677" textLength="52" lengthAdjust="spacingAndGlyphs">19 Jan 16:00</text><text x="578.4" y="677" textLength="52" lengthAdjust="spacingAndGlyphs">21 Jan 00:00</text><text x="642.4" y="677" textLength="52" lengthAdjust="spacingAndGlyphs">24 Jan 04:00</text><text x="706.4" y="677" textLength="52" lengthAdjust="spacingAndGlyphs">25 Jan 12:00</text><text x="770.4" y="677" textLength="52" lengthAdjust="spacingAndGlyphs">26 Jan 20:00</text><text x="834.4" y="677" textLength="52" lengthAdjust="spacingAndGlyphs">28 Jan 04:00</text><text x="898.4" y="677" textLength="52" lengthAdjust="spacingAndGlyphs">31 Jan 08:00</text><text x="962.4" y="677" textLength="49.6" lengthAdjust="spacingAndGlyphs">1 Feb 16:00</text><text x="1026.4" y="677" textLength="49.6" lengthAdjust="spacingAndGlyphs">3 Feb 00:00</text><text x="1090.4" y="677" textLength="49.6" lengthAdjust="spacingAndGlyphs">4 Feb 08:00</text><text x="1154.4" y="677" textLength="49.6" lengthAdjust="spacingAndGlyphs">7 Feb 12:00</text>
</g>
<g class="cr">
<rect x="1199" y="48" width="34" height="11" fill="#00C800"/><rect x="1199" y="65" width="34" height="11" fill="#000"/><rect x="1199" y="125" width="34" height="11" fill="#4158E4"/><rect x="1199" y="188" width="34" height="11" fill="#4158E4"/><rect x="1199" y="240" width="34" height="11" fill="#4158E4"/>
</g>
<g filter="url(#nf)">
<text x="1201.4" y="57" textLength="28.2" lengthAdjust="spacingAndGlyphs" class="w">92.000</text><text x="1201.4" y="74" textLength="28.2" lengthAdjust="spacingAndGlyphs" class="w">91.390</text><text x="1201.4" y="134" textLength="28.2" lengthAdjust="spacingAndGlyphs" class="w">89.000</text><text x="1201.4" y="197" textLength="28.2" lengthAdjust="spacingAndGlyphs" class="w">86.500</text><text x="1201.4" y="249" textLength="28.2" lengthAdjust="spacingAndGlyphs" class="w">84.500</text>
</g>
<g filter="url(#nf)"><text x="567.5" y="380" class="cj">多空转折点92</text></g>
</svg>
</body></html>
